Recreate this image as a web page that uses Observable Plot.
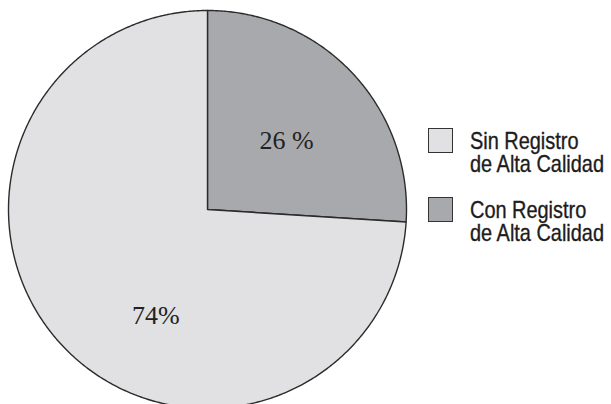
<!DOCTYPE html>
<html>
<head>
<meta charset="utf-8">
<script src="https://cdn.jsdelivr.net/npm/d3@7"></script>
<script src="https://cdn.jsdelivr.net/npm/@observablehq/plot@0.6"></script>
<style>
  html, body { margin: 0; padding: 0; background: #ffffff; }
  #wrap { position: relative; width: 611px; height: 404px; overflow: hidden; }
  #legend { position: absolute; left: 428px; top: 0; }
  .item { position: absolute; left: 0; white-space: nowrap; }
  .sw { position: absolute; left: 0; top: 0; width: 23px; height: 23px; border: 1px solid #333; box-sizing: content-box; }
  .lab { position: absolute; left: 42px; transform: scaleX(0.83); transform-origin: 0 0; }
  .line { display: block; height: 23px; font-family: "Liberation Sans", Arial, sans-serif; font-size: 24px; line-height: 23px; color: #1c1c1c; -webkit-text-stroke: 0.35px #1c1c1c; white-space: nowrap; }
</style>
</head>
<body>
<div id="wrap"></div>
<script>
// ---- data ----
const categories = ["Con Registro de Alta Calidad", "Sin Registro de Alta Calidad"]; // pie order (clockwise from 12 o'clock)
const values = [26, 74];
const valueLabels = ["26 %", "74%"];
const legendOrder = ["Sin Registro de Alta Calidad", "Con Registro de Alta Calidad"];
const legendLines = [["Sin Registro", "de Alta Calidad"], ["Con Registro", "de Alta Calidad"]];
const colors = {"Sin Registro de Alta Calidad": "#e1e1e3", "Con Registro de Alta Calidad": "#a8a9ac"};

// ---- layout (style, not data) ----
const W = 611, H = 404, cx = 207, cy = 209, R = 199;
const labelPlace = [{r: 0.528, da: 2.0}, {r: 0.591, da: -20.8}]; // radius fraction, angle offset (deg) from slice mid-angle

const arcs = d3.pie().sort(null)(values);
const pts = [];
arcs.forEach((a, i) => {
  const cat = categories[i];
  pts.push({cat, x: 0, y: 0});
  const n = Math.max(2, Math.ceil((a.endAngle - a.startAngle) / (Math.PI / 360)));
  for (let k = 0; k <= n; k++) {
    const t = a.startAngle + (a.endAngle - a.startAngle) * k / n;
    pts.push({cat, x: Math.sin(t), y: Math.cos(t)});
  }
  pts.push({cat, x: 0, y: 0});
});
const labelData = arcs.map((a, i) => {
  const mid = (a.startAngle + a.endAngle) / 2 + labelPlace[i].da * Math.PI / 180;
  return {text: valueLabels[i], x: labelPlace[i].r * Math.sin(mid), y: labelPlace[i].r * Math.cos(mid)};
});

const chart = Plot.plot({
  width: W, height: H,
  margin: 0,
  x: {domain: [-cx / R, (W - cx) / R], range: [0, W], axis: null},
  y: {domain: [-(H - cy) / R, cy / R], range: [H, 0], axis: null},
  marks: [
    Plot.line(pts, {x: "x", y: "y", z: "cat", fill: d => colors[d.cat], stroke: "#2b2b2b", strokeWidth: 1.4, curve: "linear"}),
    Plot.text(labelData, {x: "x", y: "y", text: "text", fontFamily: "'Liberation Serif', 'DejaVu Serif', serif", fontSize: 26, fill: "#222"})
  ],
  style: {background: "transparent", overflow: "visible"}
});
document.getElementById("wrap").appendChild(chart);

// legend
const legend = document.createElement("div");
legend.id = "legend";
const tops = [128, 197];
legendOrder.forEach((cat, i) => {
  const item = document.createElement("div");
  item.className = "item";
  item.style.top = tops[i] + "px";
  const sw = document.createElement("div");
  sw.className = "sw";
  sw.style.background = colors[cat];
  const lab = document.createElement("div");
  lab.className = "lab";
  lab.style.top = "1px";
  legendLines[i].forEach(t => {
    const ln = document.createElement("span");
    ln.className = "line";
    ln.textContent = t;
    lab.appendChild(ln);
  });
  item.appendChild(sw);
  item.appendChild(lab);
  legend.appendChild(item);
});
document.getElementById("wrap").appendChild(legend);
</script>
</body>
</html>
